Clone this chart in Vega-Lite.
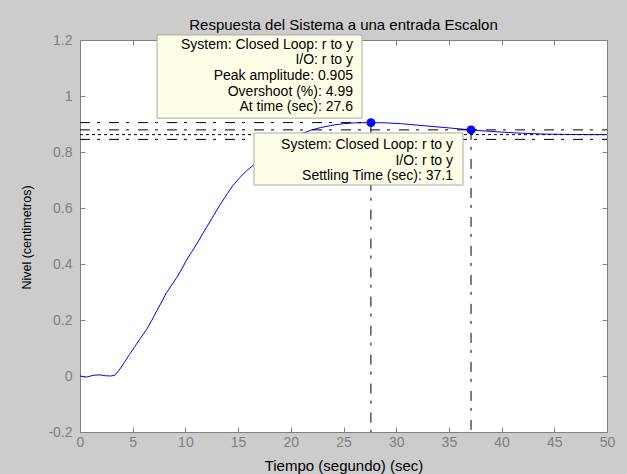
{
  "$schema": "https://vega.github.io/schema/vega-lite/v6.json",
  "width": 527,
  "height": 392,
  "autosize": {"type": "none"},
  "padding": {"left": 80, "top": 40, "right": 20, "bottom": 42},
  "background": "#cccccc",
  "config": {"view": {"stroke": null, "fill": "white"}, "font": "Liberation Sans"},
  "title": {"text": "Respuesta del Sistema a una entrada Escalon", "fontSize": 15, "fontWeight": "normal", "color": "black", "offset": 0, "font": "Liberation Sans"},
  "datasets": {
    "curve": [
      {"t": 0, "v": 0}, {"t": 0.3, "v": -0.002}, {"t": 0.6, "v": -0.004}, {"t": 1.0, "v": 0.0},
      {"t": 1.4, "v": 0.003}, {"t": 1.9, "v": 0.004}, {"t": 2.4, "v": 0.001}, {"t": 2.9, "v": 0.0},
      {"t": 3.3, "v": 0.003}, {"t": 3.7, "v": 0.02}, {"t": 4.2, "v": 0.048}, {"t": 4.7, "v": 0.077},
      {"t": 5.2, "v": 0.105}, {"t": 5.7, "v": 0.133}, {"t": 6.3, "v": 0.165}, {"t": 6.8, "v": 0.198},
      {"t": 7.3, "v": 0.234}, {"t": 7.8, "v": 0.268}, {"t": 8.2, "v": 0.297}, {"t": 8.7, "v": 0.325},
      {"t": 9.2, "v": 0.353}, {"t": 9.7, "v": 0.385}, {"t": 10.1, "v": 0.414}, {"t": 10.6, "v": 0.443},
      {"t": 11.1, "v": 0.473}, {"t": 11.7, "v": 0.512}, {"t": 12.5, "v": 0.562}, {"t": 13.3, "v": 0.612},
      {"t": 14.0, "v": 0.652}, {"t": 14.5, "v": 0.68}, {"t": 15.2, "v": 0.71}, {"t": 15.8, "v": 0.733},
      {"t": 16.8, "v": 0.764}, {"t": 17.8, "v": 0.795}, {"t": 18.8, "v": 0.822}, {"t": 19.8, "v": 0.845},
      {"t": 20.9, "v": 0.864}, {"t": 22.0, "v": 0.879}, {"t": 22.8, "v": 0.887}, {"t": 24.0, "v": 0.896},
      {"t": 25.0, "v": 0.901}, {"t": 26.0, "v": 0.904}, {"t": 27.6, "v": 0.905}, {"t": 29.0, "v": 0.904},
      {"t": 30.5, "v": 0.901}, {"t": 32.0, "v": 0.896}, {"t": 33.5, "v": 0.891}, {"t": 35.0, "v": 0.886},
      {"t": 37.1, "v": 0.879}, {"t": 38.5, "v": 0.875}, {"t": 40.0, "v": 0.871}, {"t": 42.0, "v": 0.867},
      {"t": 44.0, "v": 0.864}, {"t": 46.0, "v": 0.863}, {"t": 48.0, "v": 0.862}, {"t": 50.0, "v": 0.862}
    ],
    "dashdot": [
      {"x": 0, "x2": 27.6, "y": 0.905, "y2": 0.905},
      {"x": 27.6, "x2": 27.6, "y": 0.905, "y2": -0.2},
      {"x": 0, "x2": 50, "y": 0.879, "y2": 0.879},
      {"x": 0, "x2": 50, "y": 0.845, "y2": 0.845},
      {"x": 37.1, "x2": 37.1, "y": 0.879, "y2": -0.2}
    ],
    "dotted": [
      {"x": 0, "x2": 50, "y": 0.862, "y2": 0.862}
    ],
    "boxes": [
      {"x": 7.31, "x2": 26.76, "y": 1.218, "y2": 0.921},
      {"x": 16.51, "x2": 36.34, "y": 0.868, "y2": 0.682}
    ],
    "texts": [
      {"x": 25.9, "y": 1.182, "label": "System: Closed Loop: r to y"},
      {"x": 25.9, "y": 1.127, "label": "I/O: r to y"},
      {"x": 25.9, "y": 1.071, "label": "Peak amplitude: 0.905"},
      {"x": 25.9, "y": 1.016, "label": "Overshoot (%): 4.99"},
      {"x": 25.9, "y": 0.961, "label": "At time (sec): 27.6"},
      {"x": 35.39, "y": 0.825, "label": "System: Closed Loop: r to y"},
      {"x": 35.39, "y": 0.769, "label": "I/O: r to y"},
      {"x": 35.39, "y": 0.713, "label": "Settling Time (sec): 37.1"}
    ],
    "markers": [
      {"t": 27.6, "v": 0.905},
      {"t": 37.1, "v": 0.879}
    ]
  },
  "resolve": {"axis": {"x": "independent", "y": "independent"}},
  "layer": [
    {
      "data": {"name": "curve"},
      "mark": {"type": "line", "color": "#0000ff", "strokeWidth": 1},
      "encoding": {
        "x": {"field": "t", "type": "quantitative", "scale": {"domain": [0, 50], "nice": false},
          "axis": {"orient": "bottom", "values": [0, 5, 10, 15, 20, 25, 30, 35, 40, 45, 50], "title": "Tiempo (segundo) (sec)",
            "titleFontSize": 15, "titleFontWeight": "normal", "titleColor": "black", "titleY": 33, "titleBaseline": "middle",
            "labelFontSize": 14, "labelColor": "#808080", "labelPadding": 8, "tickSize": -5, "tickColor": "#808080",
            "domainColor": "#808080", "grid": false, "labelFlush": false, "labelOverlap": false}},
        "y": {"field": "v", "type": "quantitative", "scale": {"domain": [-0.2, 1.2], "nice": false, "zero": false},
          "axis": {"orient": "left", "values": [-0.2, 0, 0.2, 0.4, 0.6, 0.8, 1, 1.2], "labelExpr": "toString(datum.value)",
            "title": "Nivel (centimetros)", "titleFontSize": 12.5, "titleFontWeight": "normal", "titleColor": "black",
            "titleX": -54, "titleY": 197, "titleAngle": 270, "titleBaseline": "middle", "titleAlign": "center",
            "labelFontSize": 14, "labelColor": "#808080", "labelPadding": 13, "tickSize": -5, "tickColor": "#808080",
            "domainColor": "#808080", "grid": false, "labelFlush": false, "labelOverlap": false}}
      }
    },
    {
      "data": {"name": "dashdot"},
      "mark": {"type": "rule", "color": "#000000", "strokeWidth": 1, "strokeDash": [10, 7, 3, 9]},
      "encoding": {
        "x": {"field": "x", "type": "quantitative", "scale": {"domain": [0, 50], "nice": false}, "axis": null},
        "x2": {"field": "x2"},
        "y": {"field": "y", "type": "quantitative", "scale": {"domain": [-0.2, 1.2], "nice": false, "zero": false}, "axis": null},
        "y2": {"field": "y2"}
      }
    },
    {
      "data": {"name": "dotted"},
      "mark": {"type": "rule", "color": "#000000", "strokeWidth": 1, "strokeDash": [3, 3]},
      "encoding": {
        "x": {"field": "x", "type": "quantitative", "scale": {"domain": [0, 50], "nice": false}, "axis": null},
        "x2": {"field": "x2"},
        "y": {"field": "y", "type": "quantitative", "scale": {"domain": [-0.2, 1.2], "nice": false, "zero": false}, "axis": null},
        "y2": {"field": "y2"}
      }
    },
    {
      "data": {"name": "boxes"},
      "mark": {"type": "rect", "fill": "#ffffe8", "stroke": "#a8a8a8", "strokeWidth": 1},
      "encoding": {
        "x": {"field": "x", "type": "quantitative", "scale": {"domain": [0, 50], "nice": false}, "axis": null},
        "x2": {"field": "x2"},
        "y": {"field": "y", "type": "quantitative", "scale": {"domain": [-0.2, 1.2], "nice": false, "zero": false}, "axis": null},
        "y2": {"field": "y2"}
      }
    },
    {
      "data": {"name": "texts"},
      "mark": {"type": "text", "align": "right", "baseline": "middle", "fontSize": 14, "color": "#000000", "font": "Liberation Sans"},
      "encoding": {
        "x": {"field": "x", "type": "quantitative", "scale": {"domain": [0, 50], "nice": false}, "axis": null},
        "y": {"field": "y", "type": "quantitative", "scale": {"domain": [-0.2, 1.2], "nice": false, "zero": false}, "axis": null},
        "text": {"field": "label", "type": "nominal"}
      }
    },
    {
      "data": {"name": "markers"},
      "mark": {"type": "point", "filled": true, "color": "#0000ff", "size": 80, "opacity": 1},
      "encoding": {
        "x": {"field": "t", "type": "quantitative", "scale": {"domain": [0, 50], "nice": false},
          "axis": {"orient": "top", "values": [0, 5, 10, 15, 20, 25, 30, 35, 40, 45, 50], "labels": false, "title": null,
            "tickSize": -5, "tickColor": "#808080", "domainColor": "#808080", "grid": false}},
        "y": {"field": "v", "type": "quantitative", "scale": {"domain": [-0.2, 1.2], "nice": false, "zero": false},
          "axis": {"orient": "right", "values": [-0.2, 0, 0.2, 0.4, 0.6, 0.8, 1, 1.2], "labels": false, "title": null,
            "tickSize": -5, "tickColor": "#808080", "domainColor": "#808080", "grid": false}}
      }
    }
  ]
}
